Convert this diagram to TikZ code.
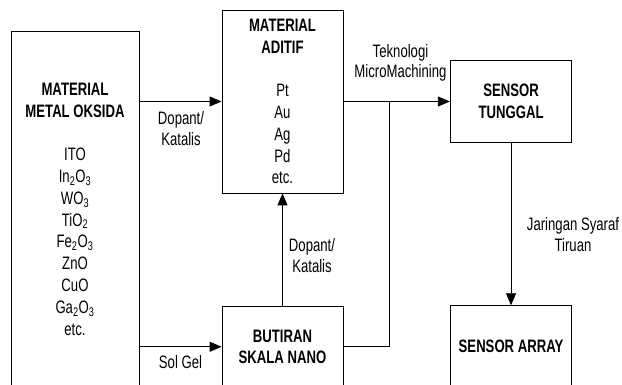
\documentclass[tikz,border=0pt]{standalone}
\usepackage{fontspec}
\setmainfont{Liberation Sans}[FakeStretch=0.73]
\usetikzlibrary{positioning,arrows.meta}
\tikzset{
    kotak/.style={draw,line width=0.8pt,inner sep=0pt,align=center,font=\fontsize{18}{21.8}\selectfont},
    teks/.style={inner sep=0pt,align=center,font=\fontsize{18}{20.5}\selectfont},
    garis/.style={draw,line width=0.8pt},
    panah/.style={garis,-{Triangle[length=12pt,width=10pt]}},
}

\begin{document}
\begin{tikzpicture}[x=1pt,y=-1pt]
    \useasboundingbox (0,0) rectangle (622,385);
    \clip (0,0) rectangle (622,385);

    % boxes
    \node[kotak,minimum width=128pt,minimum height=356pt] (oksida) at (75,209)
        {\textbf{MATERIAL}\\\textbf{METAL OKSIDA}\\[21.8pt]ITO\\In\textsubscript{2}O\textsubscript{3}\\WO\textsubscript{3}\\TiO\textsubscript{2}\\Fe\textsubscript{2}O\textsubscript{3}\\ZnO\\CuO\\Ga\textsubscript{2}O\textsubscript{3}\\etc.};
    \node[kotak,minimum width=121pt,minimum height=183pt] (aditif) at (282.5,101.5)
        {\textbf{MATERIAL}\\\textbf{ADITIF}\\[21.8pt]Pt\\Au\\Ag\\Pd\\etc.};
    \node[kotak,minimum width=121.5pt,minimum height=82pt,right=106.5pt of aditif] (tunggal)
        {\textbf{SENSOR}\\\textbf{TUNGGAL}};
    \node[kotak,minimum width=121pt,minimum height=81pt,below=112.5pt of aditif] (butiran)
        {\textbf{BUTIRAN}\\\textbf{SKALA NANO}};
    \node[kotak,minimum width=121.5pt,minimum height=80.6pt,below=162.4pt of tunggal] (array)
        {\textbf{SENSOR ARRAY}};

    % labels
    \node[teks] (lbldopan) at (181,128.5) {Dopant/\\Katalis};
    \node[teks] (lblsolgel) at (180.5,362.5) {Sol Gel};
    \node[teks] (lbltekno) at (400.5,63) {Teknologi\\MicroMachining};
    \node[teks] (lbldopanb) at (312,255.5) {Dopant/\\Katalis};
    \node[teks] (lbljst) at (573,234.5) {Jaringan Syaraf\\Tiruan};

    % connectors
    \coordinate (cabang) at (389.3,0);
    \draw[panah] (oksida.east |- aditif.west) -- (aditif.west);
    \draw[panah] (oksida.east |- butiran.west) -- (butiran.west);
    \draw[panah] (aditif.east |- tunggal.west) -- (tunggal.west);
    \draw[garis] (butiran.east) -| (cabang |- tunggal.west);
    \draw[panah] (butiran.north) -- (aditif.south);
    \draw[panah] (tunggal.south) -- (array.north);
\end{tikzpicture}
\end{document}
